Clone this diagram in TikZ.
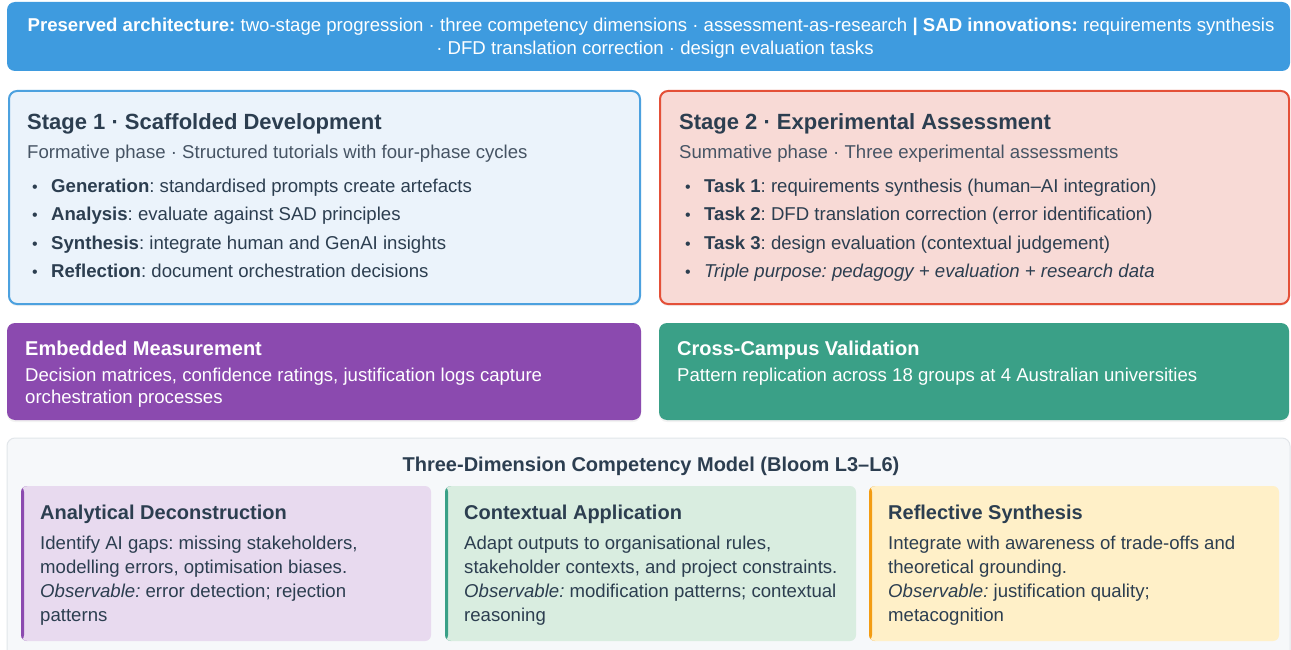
\documentclass[tikz,border=0pt]{standalone}
\usepackage{fontspec}
\setmainfont{Liberation Sans}
\usetikzlibrary{shadows}
\frenchspacing

\definecolor{ink}{RGB}{44,62,80}
\definecolor{subink}{RGB}{70,84,100}
\definecolor{bannerblue}{RGB}{62,155,223}
\definecolor{stageoneline}{RGB}{76,161,223}
\definecolor{stageonefill}{RGB}{235,243,251}
\definecolor{stagetwoline}{RGB}{228,80,56}
\definecolor{stagetwofill}{RGB}{248,218,214}
\definecolor{measurepurple}{RGB}{139,74,175}
\definecolor{validteal}{RGB}{58,160,135}
\definecolor{panelfill}{RGB}{246,248,250}
\definecolor{panelline}{RGB}{226,230,234}
\definecolor{analyticfill}{RGB}{232,218,239}
\definecolor{contextfill}{RGB}{217,237,224}
\definecolor{reflectfill}{RGB}{255,240,200}
\definecolor{reflectorange}{RGB}{243,156,18}

\newcommand\bodysize{\fontsize{18.6}{24}\selectfont}

\tikzset{
  panel/.style={rectangle, rounded corners=8pt, anchor=north west, inner sep=0pt, outer sep=0pt},
  softshadow/.style={drop shadow={opacity=0.10, shadow xshift=0pt, shadow yshift=-2pt}},
  stagebox/.style 2 args={panel, draw=#1, line width=2pt, fill=#2, minimum height=213pt, softshadow},
  infobox/.style={panel, fill=#1, minimum height=97pt, softshadow},
  competency/.style 2 args={panel, rounded corners=6pt, fill=#1, minimum width=410pt, minimum height=155pt,
    path picture={\fill[#2] (path picture bounding box.north west) rectangle ([xshift=3pt]path picture bounding box.south west);}},
  body/.style={inner sep=0pt, anchor=base west, text=ink, font=\bodysize},
  sub/.style={body, text=subink},
  bul/.style={body, font=\fontsize{16}{20}\selectfont},
  head/.style={body, font=\fontsize{22}{26}\selectfont\bfseries},
  cardhead/.style={body, font=\fontsize{20}{24}\selectfont\bfseries},
  wbody/.style={body, text=white},
  whead/.style={cardhead, text=white},
}

\begin{document}
\begin{tikzpicture}[x=1pt, y=-1pt]
\clip (0,0) rectangle (1291,650);
\fill[white] (0,0) rectangle (1291,650);

% summary banner
\node[panel, fill=bannerblue, minimum width=1283pt, minimum height=69pt] (banner) at (7,2) {};
\node[body, anchor=base, text=white] (bannerA) at (651,31.5)
  {\textbf{Preserved architecture:} two-stage progression · three competency dimensions · assessment-as-research \textbf{| SAD innovations:} requirements synthesis};
\node[body, anchor=base, text=white] (bannerB) at (655,54.5)
  {· DFD translation correction · design evaluation tasks};

% stage 1
\node[stagebox={stageoneline}{stageonefill}, minimum width=631pt] (stageone) at (9,91) {};
\node[head] (s1t) at (27,130) {Stage 1 · Scaffolded Development};
\node[sub] (s1s) at (27,158.5) {Formative phase · Structured tutorials with four-phase cycles};
\node[bul] (s1b1) at (32,192.5) {•};
\node[body] (s1i1) at (51,192.5) {\textbf{Generation}: standardised prompts create artefacts};
\node[bul] (s1b2) at (32,220.8) {•};
\node[body] (s1i2) at (51,220.8) {\textbf{Analysis}: evaluate against SAD principles};
\node[bul] (s1b3) at (32,249.1) {•};
\node[body] (s1i3) at (51,249.1) {\textbf{Synthesis}: integrate human and GenAI insights};
\node[bul] (s1b4) at (32,277.4) {•};
\node[body] (s1i4) at (51,277.4) {\textbf{Reflection}: document orchestration decisions};

% stage 2
\node[stagebox={stagetwoline}{stagetwofill}, minimum width=629pt] (stagetwo) at (660,91) {};
\node[head] (s2t) at (679,130) {Stage 2 · Experimental Assessment};
\node[sub] (s2s) at (679,158.5) {Summative phase · Three experimental assessments};
\node[bul] (s2b1) at (685,192.5) {•};
\node[body] (s2i1) at (704,192.5) {\textbf{Task 1}: requirements synthesis (human–AI integration)};
\node[bul] (s2b2) at (685,220.8) {•};
\node[body] (s2i2) at (704,220.8) {\textbf{Task 2}: DFD translation correction (error identification)};
\node[bul] (s2b3) at (685,249.1) {•};
\node[body] (s2i3) at (704,249.1) {\textbf{Task 3}: design evaluation (contextual judgement)};
\node[bul] (s2b4) at (685,277.4) {•};
\node[body] (s2i4) at (704,277.4) {\itshape Triple purpose: pedagogy + evaluation + research data};

% measurement and validation
\node[infobox=measurepurple, minimum width=634pt] (measure) at (7,323) {};
\node[whead] (mt) at (25,355) {Embedded Measurement};
\node[wbody] (m1) at (25,381.5) {Decision matrices, confidence ratings, justification logs capture};
\node[wbody] (m2) at (25,403.5) {orchestration processes};

\node[infobox=validteal, minimum width=630pt] (valid) at (659,323) {};
\node[whead] (vt) at (677,355) {Cross-Campus Validation};
\node[wbody] (v1) at (677,381.5) {Pattern replication across 18 groups at 4 Australian universities};

% competency model
\node[panel, fill=panelfill, draw=panelline, line width=1pt, minimum width=1283pt, minimum height=240pt] (model) at (7,438) {};
\node[cardhead, anchor=base] (mtitle) at (651,471) {Three-Dimension Competency Model (Bloom L3–L6)};

\node[competency={analyticfill}{measurepurple}] (analytic) at (21,486) {};
\node[cardhead] (at) at (40,519) {Analytical Deconstruction};
\node[body] (a1) at (40,549.5) {Identify AI gaps: missing stakeholders,};
\node[body] (a2) at (40,573.5) {modelling errors, optimisation biases.};
\node[body] (a3) at (40,597.5) {\textit{Observable:} error detection; rejection};
\node[body] (a4) at (40,621.5) {patterns};

\node[competency={contextfill}{validteal}, minimum width=411pt] (context) at (445,486) {};
\node[cardhead] (ct) at (464,519) {Contextual Application};
\node[body] (c1) at (464,549.5) {Adapt outputs to organisational rules,};
\node[body] (c2) at (464,573.5) {stakeholder contexts, and project constraints.};
\node[body] (c3) at (464,597.5) {\textit{Observable:} modification patterns; contextual};
\node[body] (c4) at (464,621.5) {reasoning};

\node[competency={reflectfill}{reflectorange}] (reflect) at (869,486) {};
\node[cardhead] (rt) at (888,519) {Reflective Synthesis};
\node[body] (r1) at (888,549.5) {Integrate with awareness of trade-offs and};
\node[body] (r2) at (888,573.5) {theoretical grounding.};
\node[body] (r3) at (888,597.5) {\textit{Observable:} justification quality;};
\node[body] (r4) at (888,621.5) {metacognition};
\end{tikzpicture}
\end{document}
